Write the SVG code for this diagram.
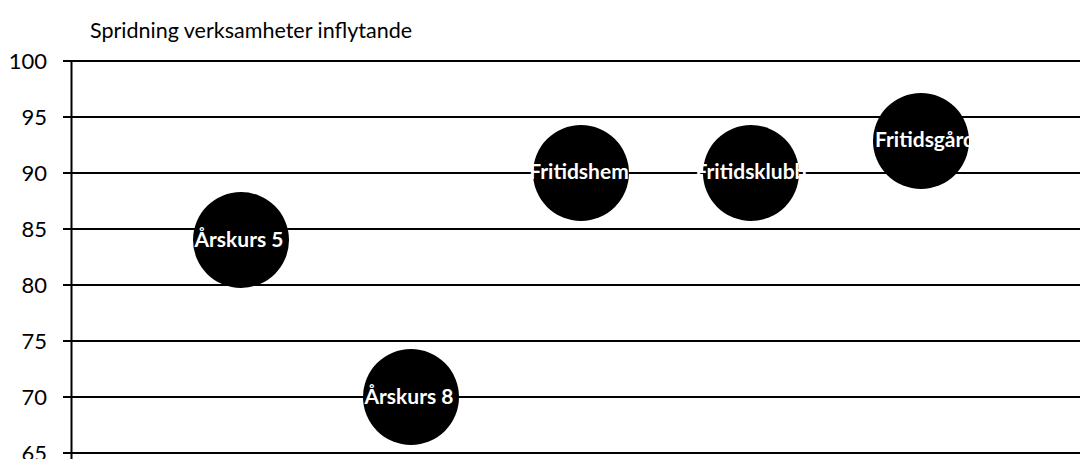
<svg xmlns="http://www.w3.org/2000/svg" width="1080" height="459" viewBox="0 0 1080 459">
<style>
.grid{stroke:#000;stroke-width:2;fill:none}
.tick{font-family:Lato,"Open Sans",sans-serif;font-size:22px;fill:#000;text-anchor:end}
.title{font-family:Lato,"Open Sans",sans-serif;font-size:21.5px;fill:#000}
.bub{fill:#000}
.lbl{font-family:Lato,"Open Sans",sans-serif;font-size:21px;font-weight:bold;fill:#fff;text-anchor:middle}
</style>
<rect width="1080" height="459" fill="#fff"/>
<text class="title" x="90" y="38">Spridning verksamheter inflytande</text>
<g id="axes">
<path class="grid" d="M63 61H1080M63 117H1080M63 173H1080M63 229H1080M63 285H1080M63 341H1080M63 397H1080M63 453H1080M71.5 61V459"/>
<text class="tick" x="47" y="68.5">100</text>
<text class="tick" x="47" y="124.5">95</text>
<text class="tick" x="47" y="180.5">90</text>
<text class="tick" x="47" y="236.5">85</text>
<text class="tick" x="47" y="292.5">80</text>
<text class="tick" x="47" y="348.5">75</text>
<text class="tick" x="47" y="404.5">70</text>
<text class="tick" x="47" y="460.5">65</text>
</g>
<g id="connectors"></g>
<g id="arskurs5"><circle class="bub" cx="241" cy="240" r="48"/><text class="lbl" x="239" y="247">Årskurs 5</text></g>
<g id="arskurs8"><circle class="bub" cx="411" cy="397" r="48"/><text class="lbl" x="409" y="404">Årskurs 8</text></g>
<g id="fritidshem"><circle class="bub" cx="581" cy="173" r="48"/><text class="lbl" x="579" y="179">Fritidshem</text></g>
<g id="fritidsklubb"><circle class="bub" cx="751" cy="173" r="48"/><text class="lbl" x="751" y="179">Fritidsklubb</text></g>
<g id="fritidsgard"><circle class="bub" cx="921" cy="141" r="48"/><text class="lbl" x="925" y="147">Fritidsgård</text></g>
</svg>
